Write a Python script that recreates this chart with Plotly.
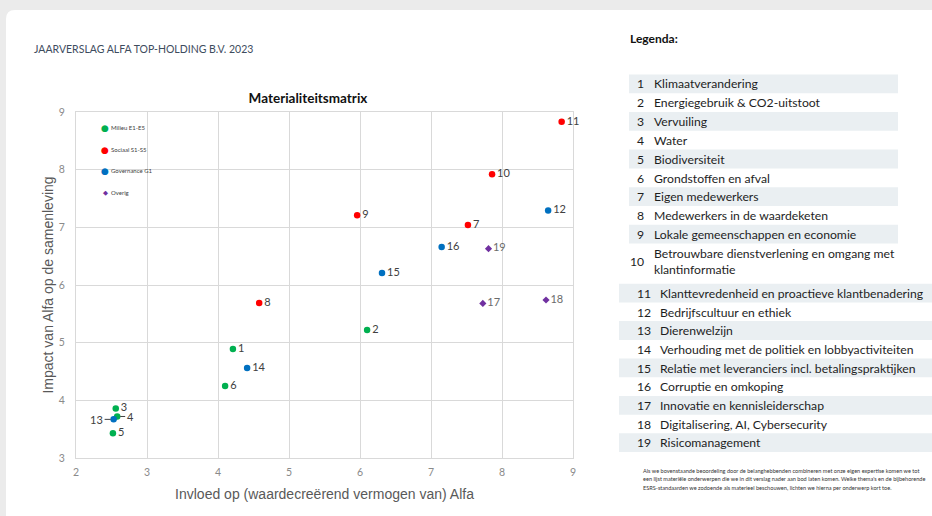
import plotly.graph_objects as go

# ---------------- data ----------------
topic_ids = list(range(1, 20))
influence = [4.21, 6.10, 2.56, 2.58, 2.52, 4.10, 7.52, 4.58, 5.96, 7.86,
             8.84, 8.65, 2.53, 4.41, 6.31, 7.15, 7.73, 8.62, 7.81]
impact = [4.89, 5.22, 3.86, 3.72, 3.43, 4.25, 7.04, 5.69, 7.21, 7.92,
          8.83, 7.29, 3.67, 4.56, 6.21, 6.66, 5.68, 5.74, 6.63]
category = (["Milieu E1-E5"] * 6 + ["Sociaal S1-S5"] * 5 +
            ["Governance G1"] * 5 + ["Overig"] * 3)
categories = ["Milieu E1-E5", "Sociaal S1-S5", "Governance G1", "Overig"]
cat_colors = {"Milieu E1-E5": "#00B050", "Sociaal S1-S5": "#FF0000",
              "Governance G1": "#0070C0", "Overig": "#7030A0"}
leader_left = [13]     # label placed left with a leader line
leader_right = [4]     # label placed right with a leader line

topic_names = [
    "Klimaatverandering",
    "Energiegebruik & CO2-uitstoot",
    "Vervuiling",
    "Water",
    "Biodiversiteit",
    "Grondstoffen en afval",
    "Eigen medewerkers",
    "Medewerkers in de waardeketen",
    "Lokale gemeenschappen en economie",
    "Betrouwbare dienstverlening en omgang met<br>klantinformatie",
    "Klanttevredenheid en proactieve klantbenadering",
    "Bedrijfscultuur en ethiek",
    "Dierenwelzijn",
    "Verhouding met de politiek en lobbyactiviteiten",
    "Relatie met leveranciers incl. betalingspraktijken",
    "Corruptie en omkoping",
    "Innovatie en kennisleiderschap",
    "Digitalisering, AI, Cybersecurity",
    "Risicomanagement",
]

header_text = "JAARVERSLAG ALFA TOP-HOLDING B.V. 2023"
chart_title = "Materialiteitsmatrix"
x_title = "Invloed op (waardecreërend vermogen van) Alfa"
y_title = "Impact van Alfa op de samenleving"
footnote_lines = [
    "Als we bovenstaande beoordeling door de belanghebbenden combineren met onze eigen expertise komen we tot",
    "een lijst materiële onderwerpen die we in dit verslag nader aan bod laten komen. Welke thema's en de bijbehorende",
    "ESRS-standaarden we zodoende als materieel beschouwen, lichten we hierna per onderwerp kort toe.",
]

# ---------------- layout geometry (pixels) ----------------
FW, FH = 932, 516
L, R, T, B = 76, 573, 112, 458
W, H = R - L, B - T


def px(x):
    return (x - L) / W


def py(y):
    return (B - y) / H


fig = go.Figure()

for cat in categories:
    idx = [i for i, c in enumerate(category) if c == cat]
    is_overig = cat == "Overig"
    fig.add_trace(go.Scatter(
        x=[influence[i] for i in idx],
        y=[impact[i] for i in idx],
        mode="markers+text",
        name=cat,
        showlegend=False,
        text=["" if topic_ids[i] in leader_left + leader_right else str(topic_ids[i]) for i in idx],
        textposition="middle right",
        textfont=dict(family="Lato", size=11,
                      color="#6b6b6b" if is_overig else "#404040"),
        marker=dict(color=cat_colors[cat],
                    symbol="diamond" if is_overig else "circle",
                    size=5.5 if is_overig else 6.5,
                    line=dict(width=0)),
        cliponaxis=False,
        hovertemplate="%{text}<extra></extra>",
    ))

annotations = []
# leader-line labels
for tid in leader_left + leader_right:
    i = topic_ids.index(tid)
    left = tid in leader_left
    annotations.append(dict(
        x=influence[i], y=impact[i], xref="x", yref="y",
        text=str(tid), showarrow=True, arrowhead=0, arrowwidth=1,
        arrowcolor="#404040", ax=-17 if left else 13, ay=0,
        standoff=3, font=dict(family="Lato", size=11, color="#404040"),
    ))

# in-chart legend
leg_y = [127.3, 149.0, 170.7, 192.0]
for cat, yy in zip(categories, leg_y):
    is_overig = cat == "Overig"
    annotations.append(dict(
        x=px(105.3), y=py(yy + 0.5), xref="paper", yref="paper",
        text="◆" if is_overig else "●", showarrow=False,
        xanchor="center", yanchor="middle",
        font=dict(family="DejaVu Sans", size=6.5 if is_overig else 9,
                  color=cat_colors[cat])))
    annotations.append(dict(
        x=px(108.5), y=py(yy), xref="paper", yref="paper",
        text=cat, showarrow=False, xanchor="left", yanchor="middle",
        font=dict(family="Lato", size=6, color="#404040")))

# header
annotations.append(dict(
    x=px(32), y=py(49), xref="paper", yref="paper", text=header_text,
    showarrow=False, xanchor="left", yanchor="middle",
    font=dict(family="Lato", size=10.5, color="#3E4C5E")))
annotations.append(dict(
    x=px(628), y=py(38), xref="paper", yref="paper", text="<b>Legenda:</b>",
    showarrow=False, xanchor="left", yanchor="middle",
    font=dict(family="Lato", size=12, color="#111111")))

shapes = []
# white card
r = 9
x0, y0, x1, y1 = 6, 10, 960, 540
path = (f"M {px(x0 + r)} {py(y0)} L {px(x1)} {py(y0)} L {px(x1)} {py(y1)} "
        f"L {px(x0)} {py(y1)} L {px(x0)} {py(y0 + r)} "
        f"Q {px(x0)} {py(y0)} {px(x0 + r)} {py(y0)} Z")
shapes.append(dict(type="path", path=path, xref="paper", yref="paper",
                   fillcolor="#FFFFFF", line=dict(width=0), layer="below"))

# legend table
row_centers = [84.0 + 18.8 * k for k in range(9)] + [261.0] + \
              [293.3 + 18.7 * k for k in range(9)]
for k, (tid, name, yc) in enumerate(zip(topic_ids, topic_names, row_centers)):
    first_block = tid <= 10
    if tid % 2 == 1:
        bx0, bx1 = (629, 898) if first_block else (619, 960)
        shapes.append(dict(type="rect", xref="paper", yref="paper",
                           x0=px(bx0), x1=px(bx1), y0=py(yc - 9.6), y1=py(yc + 9.2),
                           fillcolor="#EAEFF2", line=dict(width=0), layer="below"))
    num_right = 646 if first_block else 652.5
    txt_left = 652 if first_block else 658
    annotations.append(dict(
        x=px(num_right), y=py(yc), xref="paper", yref="paper", text=str(tid),
        showarrow=False, xanchor="right", yanchor="middle",
        font=dict(family="Lato", size=12.2, color="#1E1E1E")))
    annotations.append(dict(
        x=px(txt_left), y=py(yc), xref="paper", yref="paper", text=name,
        showarrow=False, xanchor="left", yanchor="middle", align="left",
        font=dict(family="Lato", size=12.2, color="#1E1E1E")))

# footnote
for k, line in enumerate(footnote_lines):
    annotations.append(dict(
        x=px(641), y=py(470 + 8.6 * k), xref="paper", yref="paper", text=line,
        showarrow=False, xanchor="left", yanchor="middle",
        font=dict(family="Lato", size=5.6, color="#333333")))

axis_common = dict(
    dtick=1, showgrid=True, gridcolor="#D9D9D9", gridwidth=1,
    showline=True, linecolor="#D9D9D9", linewidth=1, mirror=True,
    zeroline=False, ticks="", automargin=False,
    tickfont=dict(family="Lato", size=10.5, color="#8A8A8A"),
    title_font=dict(family="Liberation Sans", size=14, color="#595959"),
)

fig.update_layout(
    width=FW, height=FH,
    margin=dict(l=L, r=FW - R, t=T, b=FH - B, pad=0),
    paper_bgcolor="#EBEBEB", plot_bgcolor="rgba(0,0,0,0)",
    title=dict(text=f"<b>{chart_title}</b>", x=308 / FW, xref="container",
               xanchor="center", y=1 - 98 / FH, yref="container",
               yanchor="middle",
               font=dict(family="Lato", size=13.5, color="#111111")),
    xaxis=dict(range=[2, 9], title=dict(text=x_title, standoff=12),
               ticklabelstandoff=4, **axis_common),
    yaxis=dict(range=[3, 9], title=dict(text=y_title, standoff=1),
               ticklabelstandoff=8, **axis_common),
    shapes=shapes, annotations=annotations, showlegend=False,
)

fig.write_html(
    "out.html",
    config={"displayModeBar": False},
    post_script="document.body.style.margin='0';document.body.style.padding='0';"
                "document.body.style.overflow='hidden';",
)
